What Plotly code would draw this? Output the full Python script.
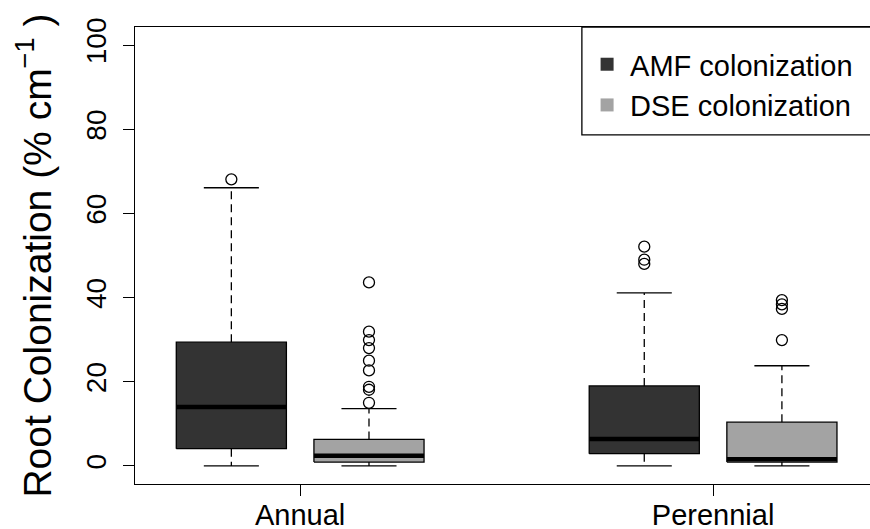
import plotly.graph_objects as go

# ---- data ----
groups = ["Annual", "Perennial"]
series = ["AMF colonization", "DSE colonization"]
positions = [1, 2, 4, 5]          # box centres: Annual AMF, Annual DSE, Perennial AMF, Perennial DSE
box_series = [0, 1, 0, 1]
lower = [0.0, 0.0, 0.0, 0.0]
q1 = [4.1, 0.9, 2.9, 0.9]
median = [14.0, 2.4, 6.4, 1.6]
q3 = [29.4, 6.3, 19.0, 10.4]
upper = [66.1, 13.6, 41.1, 23.8]
outliers = [
    [68.1],
    [43.6, 31.9, 29.9, 28.0, 25.0, 22.7, 18.8, 18.1, 15.0],
    [52.1, 49.0, 48.0],
    [39.4, 38.4, 37.3, 29.9],
]
tick_positions = [1.5, 4.5]
y_ticks = [0, 20, 40, 60, 80, 100]

colors = ["#333333", "#a3a3a3"]
BOX_W = 0.8
STAPLE_W = 0.4

fig = go.Figure()

for i, c in enumerate(positions):
    col = colors[box_series[i]]
    x0, x1 = c - BOX_W / 2, c + BOX_W / 2
    s0, s1 = c - STAPLE_W / 2, c + STAPLE_W / 2
    # whiskers (dashed)
    fig.add_trace(go.Scatter(x=[c, c, None, c, c], y=[q3[i], upper[i], None, q1[i], lower[i]],
                             mode="lines", line=dict(color="black", width=1.3, dash="8px,5px"),
                             showlegend=False, hoverinfo="skip"))
    # staples
    fig.add_trace(go.Scatter(x=[s0, s1, None, s0, s1], y=[upper[i], upper[i], None, lower[i], lower[i]],
                             mode="lines", line=dict(color="black", width=1.3),
                             showlegend=False, hoverinfo="skip"))
    # box
    fig.add_trace(go.Scatter(x=[x0, x1, x1, x0, x0], y=[q1[i], q1[i], q3[i], q3[i], q1[i]],
                             mode="lines", fill="toself", fillcolor=col,
                             line=dict(color="black", width=1.3),
                             showlegend=False, hoverinfo="skip"))
    # median
    fig.add_trace(go.Scatter(x=[x0, x1], y=[median[i], median[i]], mode="lines",
                             line=dict(color="black", width=4.5),
                             showlegend=False, hoverinfo="skip"))
    # outliers
    fig.add_trace(go.Scatter(x=[c] * len(outliers[i]), y=outliers[i], mode="markers",
                             marker=dict(symbol="circle-open", size=11, color="black",
                                         line=dict(width=1.3, color="black")),
                             showlegend=False))

# legend entries
for s, name in enumerate(series):
    fig.add_trace(go.Scatter(x=[None], y=[None], mode="markers", name=name,
                             marker=dict(symbol="square", size=13, color=colors[s])))

# legend frame (clipped by right edge, like the reference)
fig.add_shape(type="rect", xref="paper", yref="paper", x0=0.608, x1=1.1, y0=0.764, y1=1.0,
              line=dict(color="black", width=1.3), fillcolor="white", layer="below")

fig.update_layout(
    width=870, height=529,
    margin=dict(l=135, r=0, t=27, b=45, autoexpand=False),
    paper_bgcolor="white", plot_bgcolor="white",
    font=dict(family="Liberation Sans, Arial, sans-serif", color="black", size=29),
    showlegend=True,
    legend=dict(x=0.611, y=0.974, xanchor="left", yanchor="top",
                bgcolor="rgba(0,0,0,0)", borderwidth=0, itemwidth=36,
                font=dict(size=29), tracegroupgap=0),
    xaxis=dict(range=[0.3, 5.64], tickmode="array", tickvals=tick_positions, ticktext=groups,
               ticks="outside", ticklen=11, tickwidth=1.3, tickcolor="black",
               showline=True, linecolor="black", linewidth=1.3, mirror=True,
               showgrid=False, zeroline=False, tickfont=dict(size=29),
               automargin=False, ticklabelstandoff=-6),
    yaxis=dict(range=[-4.3, 104.3], tickmode="array", tickvals=y_ticks,
               ticks="outside", ticklen=11, tickwidth=1.3, tickcolor="black",
               showline=True, linecolor="black", linewidth=1.3, mirror=False,
               showgrid=False, zeroline=False, tickangle=-90, tickfont=dict(size=28),
               automargin=False, ticklabelstandoff=6,
               title=dict(text="Root Colonization (% cm<sup>\u22121</sup> )",
                          font=dict(size=39), standoff=17)),
)

fig.write_html("out.html", config={"displayModeBar": False},
               post_script="document.body.style.margin='0';document.body.style.overflow='hidden';")
